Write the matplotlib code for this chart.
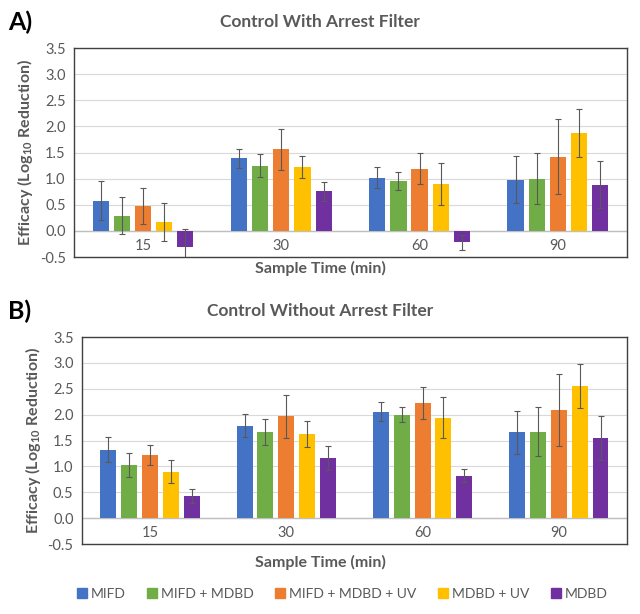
import numpy as np
import matplotlib.pyplot as plt
from matplotlib.lines import Line2D

plt.rcParams['font.family'] = ['Lato', 'DejaVu Sans']
plt.rcParams['mathtext.default'] = 'regular'

times = ['15', '30', '60', '90']
series = ['MIFD', 'MIFD + MDBD', 'MIFD + MDBD + UV', 'MDBD + UV', 'MDBD']
colors = ['#4472C4', '#70AD47', '#ED7D31', '#FFC000', '#7030A0']

# panel A: control with arrest filter (rows = series, cols = times)
a_vals = [[0.58, 1.39, 1.02, 0.98],
          [0.29, 1.25, 0.96, 1.00],
          [0.48, 1.56, 1.19, 1.42],
          [0.17, 1.23, 0.90, 1.87],
          [-0.31, 0.76, -0.22, 0.88]]
a_err = [[0.37, 0.18, 0.20, 0.45],
         [0.35, 0.22, 0.17, 0.49],
         [0.35, 0.39, 0.30, 0.72],
         [0.36, 0.21, 0.40, 0.46],
         [0.35, 0.18, 0.14, 0.45]]

# panel B: control without arrest filter
b_vals = [[1.32, 1.79, 2.06, 1.66],
          [1.03, 1.66, 2.00, 1.67],
          [1.22, 1.97, 2.23, 2.09],
          [0.90, 1.63, 1.94, 2.55],
          [0.43, 1.16, 0.82, 1.55]]
b_err = [[0.24, 0.23, 0.19, 0.42],
         [0.23, 0.25, 0.15, 0.47],
         [0.20, 0.42, 0.31, 0.70],
         [0.23, 0.25, 0.40, 0.43],
         [0.14, 0.23, 0.13, 0.42]]

grey = '#595959'

fig = plt.figure(figsize=(6.4, 6.14), dpi=100)
ax_a = fig.add_axes([0.1156, 0.5814, 0.864, 0.3404])
ax_b = fig.add_axes([0.128, 0.114, 0.8516, 0.337])


def draw(ax, vals, errs, title, mid_x):
    x = np.arange(len(times))
    pitch = 0.153
    for i, (v, e) in enumerate(zip(vals, errs)):
        ax.bar(x + (i - 2) * pitch, v, width=0.117, color=colors[i],
               yerr=e, error_kw=dict(ecolor='#595959', elinewidth=0.8,
                                     capsize=2.5, capthick=0.8),
               zorder=3, label=series[i])
    ax.set_xlim(-0.5, 3.5)
    ax.set_ylim(-0.5, 3.5)
    ax.set_yticks(np.arange(-0.5, 3.51, 0.5))
    ax.set_yticklabels([f'{t:.1f}' for t in np.arange(-0.5, 3.51, 0.5)])
    ax.set_xticks(x)
    ax.set_xticklabels(times)
    ax.tick_params(axis='x', length=0, pad=-13, colors=grey, labelsize=10.5)
    ax.tick_params(axis='y', length=0, pad=6, colors=grey, labelsize=10.5)
    ax.grid(axis='y', color='#D9D9D9', lw=0.8, zorder=0)
    ax.axhline(0, color='#BFBFBF', lw=1, zorder=2)
    for s in ax.spines.values():
        s.set_color('#404040')
        s.set_linewidth(1)
    # title and x label sit at the figure's centre, not the plot's
    ax.set_title(title, fontsize=12.5, fontweight='bold', color=grey, pad=15,
                 x=mid_x)
    ax.set_xlabel('Sample Time (min)', fontsize=11.5, fontweight='bold',
                  color=grey, labelpad=3)
    ax.xaxis.label.set_x(mid_x)
    ax.set_ylabel('Efficacy (Log$_{10}$ Reduction)', fontsize=11.5,
                  fontweight='bold', color=grey, labelpad=3)


draw(ax_a, a_vals, a_err, 'Control With Arrest Filter', 0.445)
draw(ax_b, b_vals, b_err, 'Control Without Arrest Filter', 0.437)
ax_b.xaxis.labelpad = 8

fig.text(0.012, 0.963, 'A)', fontsize=18, fontweight='bold', va='center')
fig.text(0.012, 0.493, 'B)', fontsize=18, fontweight='bold', va='center')

handles = [Line2D([], [], marker='s', ls='', color=c, markersize=7.5) for c in colors]
fig.legend(handles, series, loc='center', bbox_to_anchor=(0.532, 0.033),
           ncol=5, frameon=False, fontsize=10, labelcolor=grey,
           handletextpad=0.05, columnspacing=1.3, handlelength=1.2)

fig.savefig('out.png', dpi=100)
